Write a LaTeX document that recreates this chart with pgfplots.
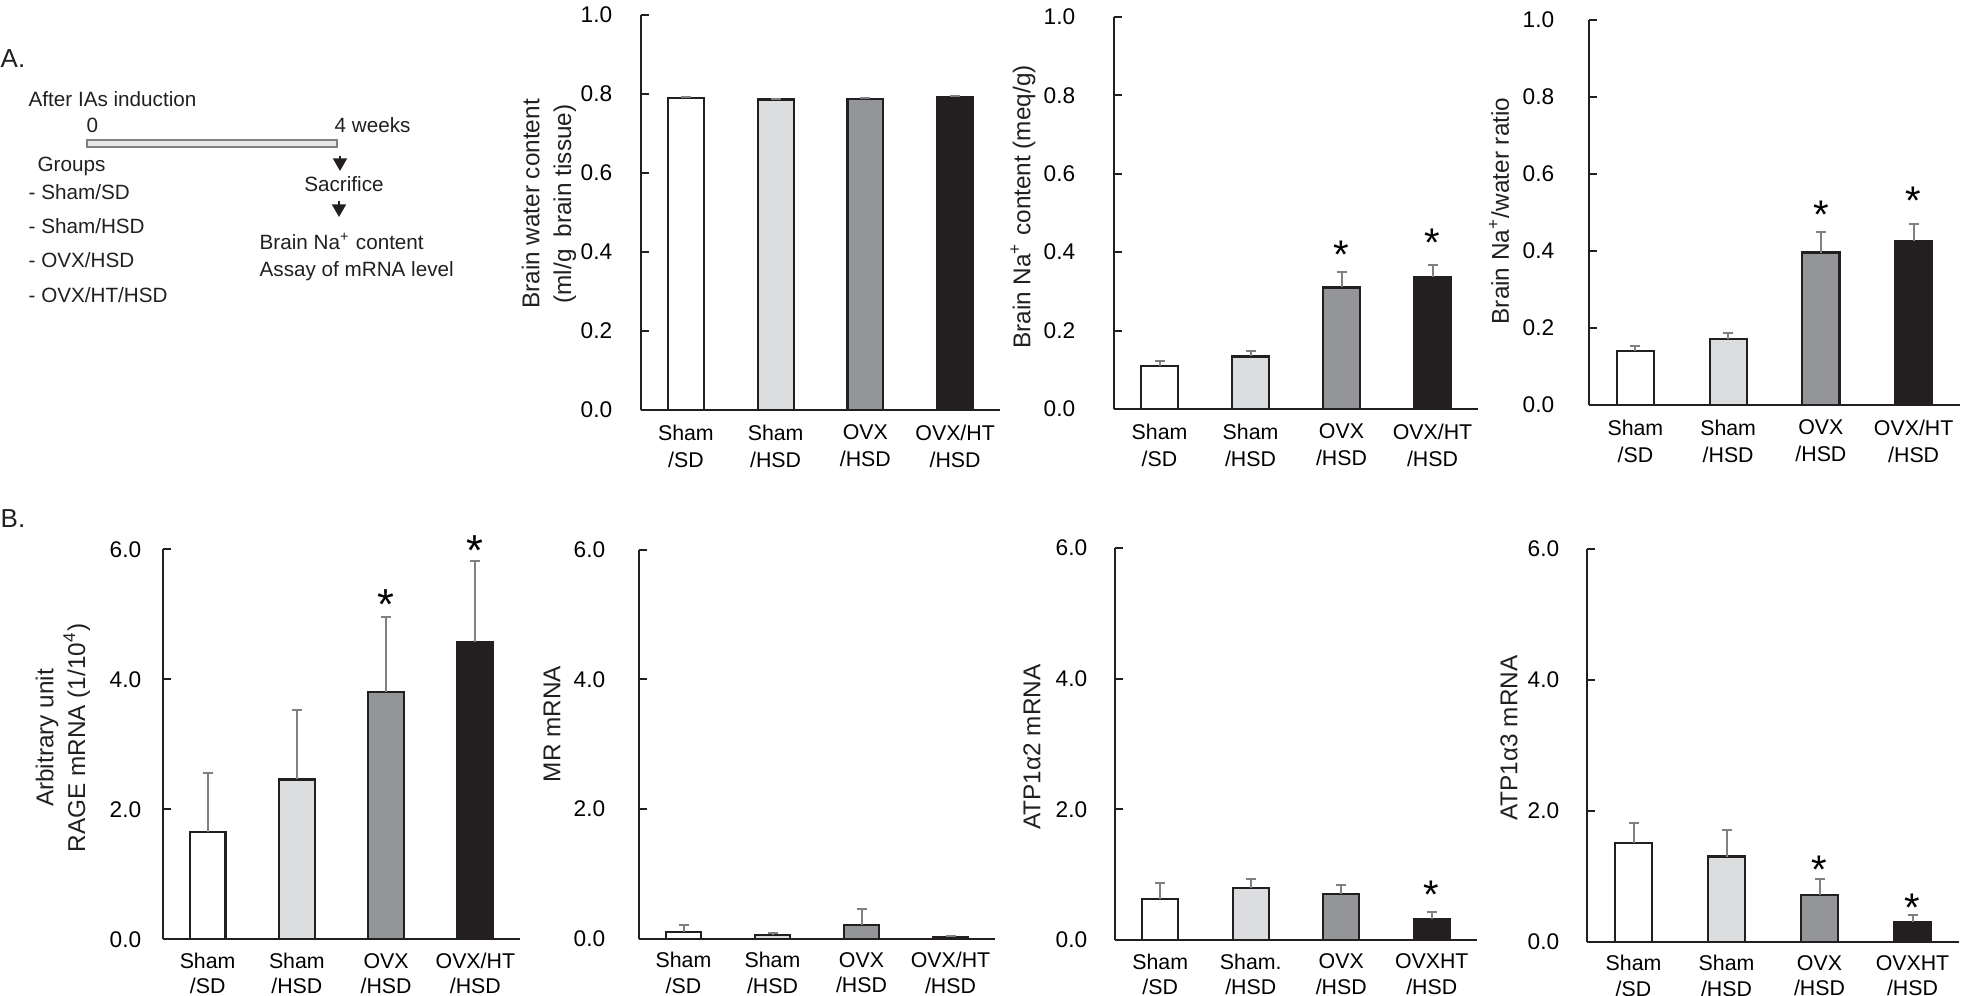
\documentclass[border=0pt]{standalone}
\usepackage{fontspec}
\setmainfont{Liberation Sans}
\usepackage{pgfplots}
\pgfplotsset{compat=1.18}
\usetikzlibrary{arrows.meta}

\definecolor{cW}{HTML}{FFFFFF}
\definecolor{cL}{HTML}{DCDDDF}
\definecolor{cM}{HTML}{939598}
\definecolor{cK}{HTML}{231F20}
\definecolor{cE}{HTML}{808080}

\pgfplotsset{
  panel/.style={
    scale only axis,
    anchor=south west,
    ybar, bar width=0.4, bar shift=0pt,
    xmin=-0.5, xmax=3.5, ymin=0,
    axis x line*=bottom, axis y line*=left,
    axis line style={draw=cK, line width=0.55pt},
    xtick={0,1,2,3},
    xtick style={draw=none},
    xticklabel style={align=center, font=\fontsize{6.4}{8.1}\selectfont, yshift=-0.9pt},
    tick align=inside,
    ytick pos=left,
    major tick length=2.4pt,
    ytick style={draw=cK, line width=0.55pt},
    yticklabel style={font=\fontsize{6.8}{8}\selectfont, /pgf/number format/fixed, /pgf/number format/fixed zerofill, /pgf/number format/precision=1, /pgf/number format/assume math mode=true},
    clip=false,
    error bars/y dir=plus, error bars/y explicit,
    error bars/error bar style={draw=cE, line width=0.6pt},
    error bars/error mark options={draw=cE, rotate=90, mark size=1.5pt, line width=0.6pt},
  },
  Apanel/.style={panel, ymax=1, ytick={0,0.2,0.4,0.6,0.8,1.0}},
  Bpanel/.style={panel, ymax=6, ytick={0,2,4,6},
    xticklabel style={font=\fontsize{6.4}{7.6}\selectfont, yshift=0.3pt}},
  b/.style={draw=cK, line width=0.65pt},
  std/.style={xticklabels={{Sham\\/SD},{Sham\\/HSD},{OVX\\/HSD},{OVX/HT\\/HSD}}},
}
\tikzset{star/.style={font=\fontsize{12}{12}\selectfont, inner sep=0pt, yshift=-2.8pt}}

\begin{document}
\begin{tikzpicture}
\path[use as bounding box] (0,0) rectangle (590.4pt,-298.8pt);

% ---------- A1: brain water content
\begin{axis}[Apanel, std, at={(192.3pt,-123.0pt)}, width=107.7pt, height=118.5pt,
  yticklabel style={xshift=-5.1pt}]
\addplot[b, fill=cW] coordinates {(0,0.789) +- (0,0.004)};
\addplot[b, fill=cL] coordinates {(1,0.786) +- (0,0.002)};
\addplot[b, fill=cM] coordinates {(2,0.788) +- (0,0.003)};
\addplot[b, fill=cK] coordinates {(3,0.792) +- (0,0.003)};
\end{axis}

% ---------- A2: brain Na content
\begin{axis}[Apanel, std, at={(334.2pt,-122.7pt)}, width=109.2pt, height=117.6pt,
  yticklabel style={xshift=-8.1pt}]
\addplot[b, fill=cW] coordinates {(0,0.110) +- (0,0.012)};
\addplot[b, fill=cL] coordinates {(1,0.134) +- (0,0.015)};
\addplot[b, fill=cM] coordinates {(2,0.310) +- (0,0.039)};
\addplot[b, fill=cK] coordinates {(3,0.336) +- (0,0.031)};
\node[star] at (axis cs:2,0.418) {*};
\node[star] at (axis cs:3,0.449) {*};
\end{axis}

% ---------- A3: Na/water ratio
\begin{axis}[Apanel, std, at={(476.7pt,-121.5pt)}, width=111.3pt, height=115.5pt,
  yticklabel style={xshift=-6.9pt}]
\addplot[b, fill=cW] coordinates {(0,0.141) +- (0,0.013)};
\addplot[b, fill=cL] coordinates {(1,0.171) +- (0,0.017)};
\addplot[b, fill=cM] coordinates {(2,0.396) +- (0,0.053)};
\addplot[b, fill=cK] coordinates {(3,0.427) +- (0,0.043)};
\node[star] at (axis cs:2,0.519) {*};
\node[star] at (axis cs:3,0.554) {*};
\end{axis}

% ---------- B1: RAGE
\begin{axis}[Bpanel, std, at={(48.9pt,-281.8pt)}, width=107.1pt, height=117.0pt,
  yticklabel style={xshift=-3.0pt}]
\addplot[b, fill=cW] coordinates {(0,1.646) +- (0,0.908)};
\addplot[b, fill=cL] coordinates {(1,2.46) +- (0,1.068)};
\addplot[b, fill=cM] coordinates {(2,3.80) +- (0,1.159)};
\addplot[b, fill=cK] coordinates {(3,4.58) +- (0,1.246)};
\node[star, font=\fontsize{13}{13}\selectfont] at (axis cs:2,5.30) {*};
\node[star, font=\fontsize{13}{13}\selectfont] at (axis cs:3,6.12) {*};
\end{axis}

% ---------- B2: MR
\begin{axis}[Bpanel, std, at={(191.7pt,-281.6pt)}, width=106.8pt, height=116.7pt,
  yticklabel style={xshift=-6.6pt}]
\addplot[b, fill=cW] coordinates {(0,0.103) +- (0,0.113)};
\addplot[b, fill=cL] coordinates {(1,0.057) +- (0,0.025)};
\addplot[b, fill=cM] coordinates {(2,0.21) +- (0,0.242)};
\addplot[b, fill=cK] coordinates {(3,0.03) +- (0,0.016)};
\end{axis}

% ---------- B3: ATP1a2
\begin{axis}[Bpanel, at={(334.5pt,-282.0pt)}, width=108.6pt, height=117.6pt,
  xticklabels={{Sham\\/SD},{Sham.\\/HSD},{OVX\\/HSD},{OVXHT\\/HSD}},
  yticklabel style={xshift=-4.8pt}]
\addplot[b, fill=cW] coordinates {(0,0.628) +- (0,0.25)};
\addplot[b, fill=cL] coordinates {(1,0.797) +- (0,0.132)};
\addplot[b, fill=cM] coordinates {(2,0.705) +- (0,0.132)};
\addplot[b, fill=cK] coordinates {(3,0.322) +- (0,0.102)};
\node[star] at (axis cs:3,0.84) {*};
\end{axis}

% ---------- B4: ATP1a3
\begin{axis}[Bpanel, at={(476.1pt,-282.5pt)}, width=111.6pt, height=117.9pt,
  xticklabels={{Sham\\/SD},{Sham\\/HSD},{OVX\\/HSD},{OVXHT\\/HSD}},
  yticklabel style={xshift=-4.8pt}]
\addplot[b, fill=cW] coordinates {(0,1.503) +- (0,0.305)};
\addplot[b, fill=cL] coordinates {(1,1.30) +- (0,0.406)};
\addplot[b, fill=cM] coordinates {(2,0.708) +- (0,0.255)};
\addplot[b, fill=cK] coordinates {(3,0.306) +- (0,0.096)};
\node[star] at (axis cs:2,1.248) {*};
\node[star] at (axis cs:3,0.662) {*};
\end{axis}

% ---------- texts in pixel coordinates
\begin{scope}[x=0.3pt,y=-0.3pt, every node/.style={inner sep=0pt, text=cK}]
\node[anchor=base west, font=\fontsize{7.8}{9}\selectfont] at (0,68) {A.};
\node[anchor=base west, font=\fontsize{7.8}{9}\selectfont] at (0,527) {B.};
\begin{scope}[every node/.append style={font=\fontsize{6.2}{7.5}\selectfont}]
\node[anchor=base west] at (28,107) {After IAs induction};
\node[anchor=base west] at (86,133) {0};
\node[anchor=base west] at (334,133) {4 weeks};
\draw[draw=gray, fill=cL!70, line width=0.35pt] (87,140) rectangle (337,147);
\draw[cK, line width=0.6pt, -{Triangle[length=3.8pt,width=4.2pt]}] (340,156) -- (340,171);
\node[anchor=base] at (344,192) {Sacrifice};
\draw[cK, line width=0.6pt, -{Triangle[length=3.8pt,width=4.2pt]}] (339,201) -- (339,217);
\node[anchor=base west] at (259,250) {Brain Na\textsuperscript{+} content};
\node[anchor=base west] at (259,277) {Assay of mRNA level};
\node[anchor=base west] at (37,172) {Groups};
\node[anchor=base west] at (28,200) {- Sham/SD};
\node[anchor=base west] at (28,234) {- Sham/HSD};
\node[anchor=base west] at (28,268) {- OVX/HSD};
\node[anchor=base west] at (28,303) {- OVX/HT/HSD};
\end{scope}
\begin{scope}[every node/.append style={font=\fontsize{7.3}{9.5}\selectfont, rotate=90, align=center}]
\node at (549,204) {Brain water content\\(ml/g\enspace brain tissue)};
\node at (1023,207) {Brain Na\textsuperscript{+} content (meq/g)};
\node at (1499,211) {Brain Na\textsuperscript{+}/water ratio};
\node at (63,738) {Arbitrary unit\\RAGE mRNA (1/10\textsuperscript{4})};
\node at (552,724) {MR mRNA};
\node at (1032,747) {ATP1α2 mRNA};
\node at (1509,738) {ATP1α3 mRNA};
\end{scope}
\end{scope}
\end{tikzpicture}
\end{document}
